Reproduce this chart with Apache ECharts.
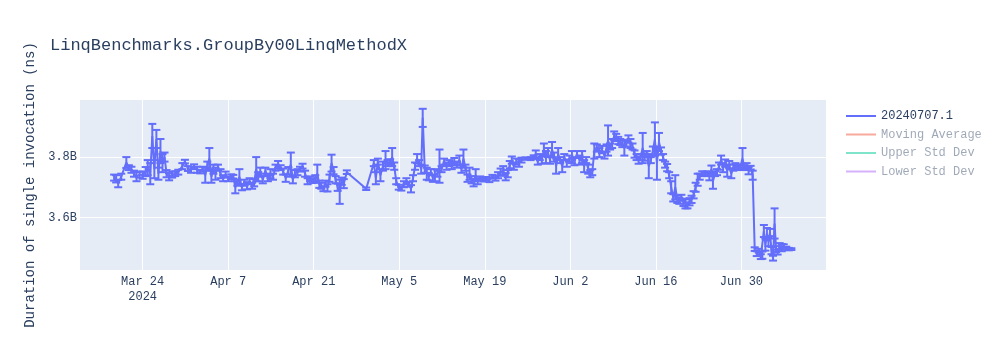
<!DOCTYPE html>
<html><head><meta charset="utf-8">
<script src="https://cdn.jsdelivr.net/npm/echarts@6/dist/echarts.min.js"></script>
<style>html,body{margin:0;padding:0;background:#fff}#c{width:1000px;height:350px}</style>
</head><body><div id="c"></div>
<script>
const chartTitle = 'LinqBenchmarks.GroupBy00LinqMethodX';
const yAxisTitle = 'Duration of single invocation (ns)';
const seriesNames = ['20240707.1', 'Moving Average', 'Upper Std Dev', 'Lower Std Dev'];
const seriesColors = ['#636efa', 'rgba(239,85,59,0.5)', 'rgba(0,204,150,0.5)', 'rgba(171,99,250,0.5)'];

const runDates = [
'2024-03-19T08:00','2024-03-19T16:00','2024-03-20T00:00','2024-03-20T12:00','2024-03-21T08:00','2024-03-21T18:00','2024-03-22T04:00','2024-03-22T14:00','2024-03-23T00:00','2024-03-23T12:00',
'2024-03-24T00:00','2024-03-24T12:00','2024-03-24T20:00','2024-03-25T06:00','2024-03-25T14:00','2024-03-25T22:00','2024-03-26T06:00','2024-03-26T14:00','2024-03-26T22:00','2024-03-27T06:00',
'2024-03-27T14:00','2024-03-27T22:00','2024-03-28T08:00','2024-03-28T20:00','2024-03-29T08:00','2024-03-29T20:00','2024-03-30T12:00','2024-03-30T22:00','2024-03-31T10:00','2024-03-31T22:00',
'2024-04-01T10:00','2024-04-01T22:00','2024-04-02T10:00','2024-04-02T20:00','2024-04-03T06:00','2024-04-03T14:00','2024-04-03T22:00','2024-04-04T06:00','2024-04-04T14:00','2024-04-04T22:00',
'2024-04-05T08:00','2024-04-05T18:00','2024-04-06T04:00','2024-04-06T14:00','2024-04-07T00:00','2024-04-07T12:00','2024-04-07T20:00','2024-04-08T04:00','2024-04-08T12:00','2024-04-08T20:00',
'2024-04-09T06:00','2024-04-09T16:00','2024-04-10T02:00','2024-04-10T12:00','2024-04-10T22:00','2024-04-11T06:00','2024-04-11T14:00','2024-04-11T22:00','2024-04-12T06:00','2024-04-12T16:00',
'2024-04-13T02:00','2024-04-13T12:00','2024-04-13T22:00','2024-04-14T08:00','2024-04-14T18:00','2024-04-15T04:00','2024-04-15T14:00','2024-04-16T00:00','2024-04-16T10:00','2024-04-16T20:00',
'2024-04-17T06:00','2024-04-17T14:00','2024-04-17T22:00','2024-04-18T08:00','2024-04-18T18:00','2024-04-19T04:00','2024-04-19T14:00','2024-04-20T00:00','2024-04-20T10:00','2024-04-20T20:00',
'2024-04-21T06:00','2024-04-21T14:00','2024-04-21T22:00','2024-04-22T06:00','2024-04-22T14:00','2024-04-22T22:00','2024-04-23T06:00','2024-04-23T14:00','2024-04-23T22:00','2024-04-24T06:00',
'2024-04-24T14:00','2024-04-24T22:00','2024-04-25T06:00','2024-04-25T14:00','2024-04-25T22:00','2024-04-26T10:00','2024-04-29T14:00','2024-04-30T20:00','2024-05-01T04:00','2024-05-01T12:00',
'2024-05-01T22:00','2024-05-02T08:00','2024-05-02T18:00','2024-05-03T02:00','2024-05-03T12:00','2024-05-03T20:00','2024-05-04T04:00','2024-05-04T12:00','2024-05-04T22:00','2024-05-05T08:00',
'2024-05-05T18:00','2024-05-06T04:00','2024-05-06T14:00','2024-05-06T22:00','2024-05-07T06:00','2024-05-07T14:00','2024-05-07T22:00','2024-05-08T06:00','2024-05-08T14:00','2024-05-08T20:00',
'2024-05-09T04:00','2024-05-09T12:00','2024-05-09T20:00','2024-05-10T04:00','2024-05-10T12:00','2024-05-10T20:00','2024-05-11T06:00','2024-05-11T14:00','2024-05-11T22:00','2024-05-12T08:00',
'2024-05-12T18:00','2024-05-13T04:00','2024-05-13T14:00','2024-05-14T00:00','2024-05-14T10:00','2024-05-14T20:00','2024-05-15T04:00','2024-05-15T12:00','2024-05-15T20:00','2024-05-16T04:00',
'2024-05-16T12:00','2024-05-16T20:00','2024-05-17T04:00','2024-05-17T12:00','2024-05-17T20:00','2024-05-18T06:00','2024-05-18T18:00','2024-05-19T06:00','2024-05-19T18:00','2024-05-20T06:00',
'2024-05-20T18:00','2024-05-21T04:00','2024-05-21T14:00','2024-05-22T00:00','2024-05-22T10:00','2024-05-22T18:00','2024-05-23T02:00','2024-05-23T10:00','2024-05-23T18:00','2024-05-24T04:00',
'2024-05-24T14:00','2024-05-25T00:00','2024-05-25T16:00','2024-05-26T12:00','2024-05-27T00:00','2024-05-27T08:00','2024-05-27T16:00','2024-05-28T00:00','2024-05-28T08:00','2024-05-28T16:00',
'2024-05-29T00:00','2024-05-29T08:00','2024-05-29T16:00','2024-05-30T00:00','2024-05-30T08:00','2024-05-30T16:00','2024-05-31T00:00','2024-05-31T08:00','2024-05-31T16:00','2024-06-01T00:00',
'2024-06-01T10:00','2024-06-01T20:00','2024-06-02T06:00','2024-06-02T16:00','2024-06-03T02:00','2024-06-03T12:00','2024-06-03T22:00','2024-06-04T06:00','2024-06-04T14:00','2024-06-04T22:00',
'2024-06-05T06:00','2024-06-05T14:00','2024-06-05T22:00','2024-06-06T08:00','2024-06-06T18:00','2024-06-07T04:00','2024-06-07T14:00','2024-06-07T22:00','2024-06-08T04:00','2024-06-08T12:00',
'2024-06-08T20:00','2024-06-09T04:00','2024-06-09T12:00','2024-06-09T20:00','2024-06-10T04:00','2024-06-10T12:00','2024-06-10T20:00','2024-06-11T04:00','2024-06-11T12:00','2024-06-11T20:00',
'2024-06-12T04:00','2024-06-12T12:00','2024-06-12T20:00','2024-06-13T04:00','2024-06-13T12:00','2024-06-13T20:00','2024-06-14T04:00','2024-06-14T12:00','2024-06-14T20:00','2024-06-15T04:00',
'2024-06-15T12:00','2024-06-15T20:00','2024-06-16T04:00','2024-06-16T12:00','2024-06-16T20:00','2024-06-17T04:00','2024-06-17T12:00','2024-06-17T20:00','2024-06-18T04:00','2024-06-18T12:00',
'2024-06-18T20:00','2024-06-19T04:00','2024-06-19T12:00','2024-06-19T20:00','2024-06-20T04:00','2024-06-20T12:00','2024-06-20T20:00','2024-06-21T04:00','2024-06-21T12:00','2024-06-21T20:00',
'2024-06-22T04:00','2024-06-22T12:00','2024-06-22T20:00','2024-06-23T04:00','2024-06-23T14:00','2024-06-24T00:00','2024-06-24T10:00','2024-06-24T18:00','2024-06-25T02:00','2024-06-25T08:00',
'2024-06-25T16:00','2024-06-26T00:00','2024-06-26T08:00','2024-06-26T16:00','2024-06-27T00:00','2024-06-27T08:00','2024-06-27T16:00','2024-06-28T00:00','2024-06-28T08:00','2024-06-28T16:00',
'2024-06-29T00:00','2024-06-29T10:00','2024-06-29T20:00','2024-06-30T04:00','2024-06-30T12:00','2024-06-30T20:00','2024-07-01T04:00','2024-07-01T12:00','2024-07-01T20:00','2024-07-02T04:00',
'2024-07-02T12:00','2024-07-02T20:00','2024-07-03T04:00','2024-07-03T10:00','2024-07-03T16:00','2024-07-03T22:00','2024-07-04T04:00','2024-07-04T10:00','2024-07-04T16:00','2024-07-04T22:00',
'2024-07-05T04:00','2024-07-05T10:00','2024-07-05T16:00','2024-07-05T22:00','2024-07-06T06:00','2024-07-06T14:00','2024-07-06T22:00','2024-07-07T08:00','2024-07-07T18:00','2024-07-08T04:00'
];

// mean duration, in seconds (1 s = 1e9 ns)
const durationsSeconds = [
3.732,3.728,3.712,3.735,3.782,3.765,3.758,3.745,3.735,3.742,
3.740,3.752,3.765,3.745,3.870,3.760,3.860,3.745,3.820,3.780,
3.800,3.745,3.735,3.742,3.745,3.750,3.770,3.785,3.762,3.758,
3.768,3.758,3.752,3.760,3.740,3.770,3.795,3.735,3.760,3.745,
3.765,3.745,3.730,3.742,3.728,3.735,3.735,3.700,3.715,3.735,
3.700,3.715,3.705,3.720,3.705,3.715,3.760,3.735,3.750,3.725,
3.755,3.730,3.745,3.735,3.765,3.775,3.765,3.752,3.730,3.755,
3.775,3.725,3.745,3.750,3.760,3.770,3.745,3.720,3.728,3.722,
3.730,3.745,3.710,3.705,3.695,3.712,3.698,3.730,3.780,3.755,
3.725,3.700,3.685,3.720,3.712,3.750,3.695,3.780,3.730,3.785,
3.740,3.770,3.790,3.780,3.785,3.800,3.770,3.720,3.700,3.695,
3.710,3.720,3.710,3.695,3.730,3.770,3.795,3.780,3.760,3.930,
3.760,3.745,3.735,3.750,3.730,3.740,3.745,3.770,3.760,3.785,
3.770,3.780,3.772,3.785,3.775,3.790,3.760,3.795,3.765,3.730,
3.745,3.725,3.715,3.740,3.720,3.730,3.725,3.728,3.725,3.735,
3.730,3.740,3.750,3.755,3.735,3.745,3.775,3.790,3.770,3.785,
3.780,3.790,3.795,3.795,3.800,3.810,3.785,3.800,3.790,3.825,
3.800,3.815,3.790,3.825,3.800,3.770,3.810,3.790,3.770,3.800,
3.780,3.795,3.800,3.785,3.810,3.790,3.800,3.770,3.790,3.760,
3.745,3.750,3.820,3.830,3.815,3.825,3.805,3.830,3.855,3.835,
3.845,3.870,3.865,3.855,3.850,3.845,3.830,3.845,3.860,3.845,
3.835,3.810,3.800,3.790,3.800,3.830,3.800,3.810,3.770,3.790,
3.820,3.860,3.780,3.850,3.820,3.800,3.775,3.765,3.740,3.700,
3.665,3.700,3.660,3.655,3.665,3.650,3.645,3.640,3.652,3.660,
3.675,3.700,3.725,3.735,3.745,3.745,3.745,3.735,3.760,3.720,
3.745,3.750,3.770,3.790,3.765,3.780,3.755,3.775,3.745,3.765,
3.770,3.765,3.770,3.795,3.765,3.770,3.755,3.765,3.740,3.495,
3.480,3.490,3.470,3.475,3.555,3.510,3.545,3.520,3.550,3.490,
3.465,3.580,3.495,3.485,3.505,3.500,3.505,3.498,3.495,3.495
];

// standard deviation (error bar half-length), in seconds
const stdDevSeconds = [
.010,.012,.012,.010,.018,.008,.010,.010,.015,.010,
.012,.015,.025,.035,.040,.030,.030,.020,.040,.030,
.015,.012,.012,.010,.008,.008,.010,.006,.008,.010,
.008,.010,.006,.008,.025,.015,.035,.020,.015,.020,
.010,.015,.010,.010,.008,.008,.006,.020,.010,.025,
.010,.010,.012,.010,.010,.012,.040,.015,.015,.012,
.010,.010,.015,.010,.010,.012,.008,.010,.012,.012,
.040,.012,.012,.010,.008,.008,.010,.010,.008,.008,
.010,.030,.012,.010,.008,.010,.012,.012,.028,.012,
.012,.012,.040,.012,.015,.006,.004,.010,.020,.010,
.020,.015,.030,.010,.008,.030,.012,.010,.008,.006,
.010,.010,.008,.012,.010,.012,.015,.010,.015,.030,
.012,.020,.012,.010,.012,.020,.010,.055,.010,.010,
.012,.010,.012,.012,.010,.015,.012,.030,.010,.012,
.020,.012,.012,.020,.010,.006,.006,.006,.008,.006,
.008,.010,.012,.015,.012,.012,.012,.012,.012,.010,
.012,.008,.004,.005,.006,.012,.010,.010,.012,.020,
.020,.015,.012,.025,.015,.025,.020,.010,.020,.010,
.012,.010,.020,.012,.010,.015,.020,.020,.010,.015,
.012,.010,.025,.012,.015,.012,.010,.012,.050,.010,
.015,.015,.012,.012,.010,.012,.025,.010,.012,.015,
.010,.012,.010,.012,.010,.050,.012,.010,.040,.010,
.015,.055,.055,.030,.012,.010,.010,.012,.010,.020,
.012,.040,.012,.010,.010,.012,.015,.010,.012,.012,
.012,.015,.020,.010,.008,.006,.008,.012,.012,.025,
.008,.010,.012,.015,.015,.012,.020,.012,.015,.010,
.010,.008,.006,.035,.008,.010,.012,.006,.015,.006,
.008,.006,.008,.012,.020,.020,.020,.015,.012,.012,
.008,.050,.010,.008,.010,.012,.006,.005,.004,.003
];

const xAxisRange = ['2024-03-13T18:00', '2024-07-13T20:00'];
const yAxisRangeSeconds = [3.4258, 3.9892];
const xTickAnchorDate = '2024-03-24T00:00';
const xTickStepDays = 14;
const monthNames = ['Jan','Feb','Mar','Apr','May','Jun','Jul','Aug','Sep','Oct','Nov','Dec'];

const NS_PER_S = 1e9, MS_PER_DAY = 864e5;
const t0 = Date.parse(xTickAnchorDate + 'Z');
const toDay = s => (Date.parse(s + 'Z') - t0) / MS_PER_DAY;
const xMin = toDay(xAxisRange[0]), xMax = toDay(xAxisRange[1]);
const firstTick = Math.ceil(xMin / xTickStepDays) * xTickStepDays;

const lineData = runDates.map((d, i) => [toDay(d), durationsSeconds[i] * NS_PER_S]);
const errData = runDates.map((d, i) => [toDay(d), (durationsSeconds[i] - stdDevSeconds[i]) * NS_PER_S, (durationsSeconds[i] + stdDevSeconds[i]) * NS_PER_S]);

const FONT = '"Liberation Mono", "Courier New", monospace';
const TXT = '#2a3f5f';
const FADED = 'rgba(42,63,95,0.45)';

const chart = echarts.init(document.getElementById('c'), null, {renderer: 'canvas'});
chart.setOption({
  animation: false,
  backgroundColor: '#fff',
  title: {text: chartTitle, left: 45, top: 32, textStyle: {fontFamily: FONT, fontSize: 17, fontWeight: 'normal', color: TXT}},
  grid: {left: 80, right: 174, top: 100, bottom: 80, show: true, backgroundColor: '#E5ECF6', borderWidth: 0, containLabel: false},
  legend: {
    orient: 'vertical', left: 846, top: 109, padding: 0, itemWidth: 30, itemHeight: 2, itemGap: 4.5,
    icon: 'rect', selectedMode: false,
    textStyle: {fontFamily: FONT, fontSize: 12, color: TXT, lineHeight: 14},
    data: [
      {name: seriesNames[0]},
      {name: seriesNames[1], textStyle: {color: FADED}},
      {name: seriesNames[2], textStyle: {color: FADED}},
      {name: seriesNames[3], textStyle: {color: FADED}}
    ]
  },
  xAxis: {
    type: 'value', min: xMin, max: xMax, minInterval: xTickStepDays, maxInterval: xTickStepDays,
    axisLine: {show: false}, axisTick: {show: false},
    splitLine: {show: true, showMinLine: false, showMaxLine: false, lineStyle: {color: '#fff', width: 1}},
    axisLabel: {
      showMinLabel: false, showMaxLabel: false, margin: 4, lineHeight: 15,
      fontFamily: FONT, fontSize: 12, color: TXT,
      formatter: v => {
        const d = new Date(t0 + v * MS_PER_DAY);
        const s = monthNames[d.getUTCMonth()] + ' ' + d.getUTCDate();
        return Math.abs(v - firstTick) < 1e-6 ? s + '\n' + d.getUTCFullYear() : s;
      }
    }
  },
  yAxis: {
    type: 'value', min: yAxisRangeSeconds[0] * NS_PER_S, max: yAxisRangeSeconds[1] * NS_PER_S, splitNumber: 3,
    name: yAxisTitle, nameLocation: 'middle', nameGap: 43,
    nameTextStyle: {fontFamily: FONT, fontSize: 14, color: TXT},
    axisLine: {show: false}, axisTick: {show: false},
    splitLine: {show: true, showMinLine: false, showMaxLine: false, lineStyle: {color: '#fff', width: 1}},
    axisLabel: {
      showMinLabel: false, showMaxLabel: false, margin: 3,
      fontFamily: FONT, fontSize: 12, color: TXT,
      formatter: v => (v / NS_PER_S).toFixed(1) + 'B'
    }
  },
  series: [
    {name: seriesNames[0], type: 'line', data: lineData, symbol: 'none', color: seriesColors[0],
     lineStyle: {width: 2, color: seriesColors[0]}, z: 3, clip: true},
    {name: seriesNames[0], type: 'custom', data: errData, encode: {x: 0, y: [1, 2]}, z: 2, clip: true, silent: true,
     renderItem: (params, api) => {
       const x = api.value(0);
       const lo = api.coord([x, api.value(1)]);
       const hi = api.coord([x, api.value(2)]);
       const w = 4;
       const st = {stroke: seriesColors[0], lineWidth: 2};
       return {type: 'group', children: [
         {type: 'line', shape: {x1: hi[0], y1: hi[1], x2: lo[0], y2: lo[1]}, style: st},
         {type: 'line', shape: {x1: hi[0] - w, y1: hi[1], x2: hi[0] + w, y2: hi[1]}, style: st},
         {type: 'line', shape: {x1: lo[0] - w, y1: lo[1], x2: lo[0] + w, y2: lo[1]}, style: st}
       ]};
     }},
    {name: seriesNames[1], type: 'line', data: [], symbol: 'none', color: seriesColors[1], lineStyle: {width: 2, color: seriesColors[1]}},
    {name: seriesNames[2], type: 'line', data: [], symbol: 'none', color: seriesColors[2], lineStyle: {width: 2, color: seriesColors[2]}},
    {name: seriesNames[3], type: 'line', data: [], symbol: 'none', color: seriesColors[3], lineStyle: {width: 2, color: seriesColors[3]}}
  ]
});
</script>
</body></html>
